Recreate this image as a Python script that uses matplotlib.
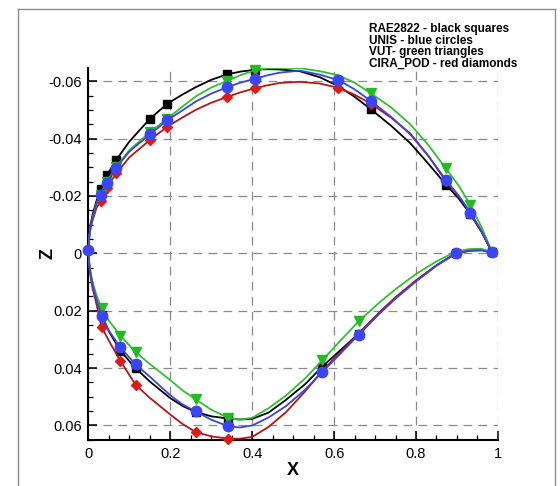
import numpy as np
import matplotlib
matplotlib.use('Agg')
import matplotlib.pyplot as plt
from matplotlib.ticker import MultipleLocator
from matplotlib.lines import Line2D

# --- 設定 ---
plt.rcParams['font.family'] = ['Liberation Sans', 'DejaVu Sans']
plt.rcParams['axes.unicode_minus'] = False

OUT_FILE = 'out.png'

# 上面・下面の x ステーション
X_UPPER = [0, 0.002, 0.005, 0.01, 0.02, 0.031, 0.045, 0.068, 0.10, 0.15, 0.193, 0.23, 0.263, 0.30,
           0.338, 0.373, 0.408, 0.438, 0.467, 0.516, 0.565, 0.61, 0.65, 0.69, 0.74, 0.786,
           0.83, 0.873, 0.905, 0.933, 0.96, 0.985]
X_LOWER = [0, 0.002, 0.005, 0.01, 0.02, 0.032, 0.05, 0.078, 0.115, 0.15, 0.2, 0.23, 0.262, 0.30,
           0.342, 0.37, 0.40, 0.44, 0.483, 0.53, 0.571, 0.615, 0.66, 0.711, 0.75, 0.80,
           0.85, 0.897, 0.93, 0.96, 0.985]

# 各手法の翼形状 Z
RAE_UPPER = [-0.001, -0.0065, -0.0100, -0.0135, -0.0185, -0.0226, -0.0273, -0.0326, -0.0390, -0.0469,
             -0.0522, -0.0554, -0.0580, -0.0605, -0.0624, -0.0634, -0.0640, -0.0642, -0.0641, -0.0635,
             -0.0614, -0.0583, -0.0546, -0.0502, -0.0444, -0.0384, -0.0313, -0.0240, -0.0190, -0.0136,
             -0.0075, -0.0006]
RAE_LOWER = [-0.001, 0.004, 0.0072, 0.0110, 0.0163, 0.0215, 0.0272, 0.0340, 0.0400, 0.0447,
             0.0505, 0.0532, 0.0553, 0.0568, 0.0576, 0.0579, 0.0577, 0.0555, 0.0510, 0.0455,
             0.0395, 0.0338, 0.0280, 0.0207, 0.0155, 0.0096, 0.0042, 0.0000, -0.0012, -0.0013, -0.0004]

UNIS_UPPER = [-0.001, -0.006, -0.0092, -0.0125, -0.0175, -0.0204, -0.0247, -0.0299, -0.0355, -0.0415,
              -0.0464, -0.0499, -0.0530, -0.0557, -0.0579, -0.0596, -0.0609, -0.0621, -0.0630, -0.0637,
              -0.0623, -0.0604, -0.0572, -0.0531, -0.0475, -0.0415, -0.0340, -0.0256, -0.0200, -0.0140,
              -0.0078, -0.0006]
UNIS_LOWER = [-0.001, 0.004, 0.0072, 0.0110, 0.0163, 0.0220, 0.0270, 0.0328, 0.0387, 0.0430,
              0.0495, 0.0527, 0.0551, 0.0580, 0.0603, 0.0607, 0.0600, 0.0572, 0.0532, 0.0474,
              0.0414, 0.0350, 0.0284, 0.0210, 0.0158, 0.0098, 0.0043, 0.0000, -0.0008, -0.0010, -0.0003]

VUT_UPPER = [-0.001, -0.006, -0.0092, -0.0125, -0.0175, -0.0205, -0.0250, -0.0302, -0.0360, -0.0422,
             -0.0470, -0.0512, -0.0548, -0.0578, -0.0601, -0.0622, -0.0639, -0.0645, -0.0647, -0.0646,
             -0.0635, -0.0621, -0.0595, -0.0558, -0.0508, -0.0450, -0.0378, -0.0296, -0.0235, -0.0168,
             -0.0092, -0.0008]
VUT_LOWER = [-0.001, 0.0035, 0.0065, 0.0100, 0.0148, 0.0189, 0.0235, 0.0287, 0.0344, 0.0386,
             0.0442, 0.0478, 0.0509, 0.0545, 0.0574, 0.0580, 0.0573, 0.0540, 0.0495, 0.0435,
             0.0373, 0.0305, 0.0237, 0.0171, 0.0125, 0.0072, 0.0028, -0.0006, -0.0015, -0.0016, -0.0004]

CIRA_UPPER = [-0.001, -0.0055, -0.0085, -0.0115, -0.0160, -0.0183, -0.0228, -0.0279, -0.0335, -0.0395,
              -0.0442, -0.0474, -0.0501, -0.0525, -0.0545, -0.0562, -0.0576, -0.0586, -0.0594, -0.0598,
              -0.0592, -0.0577, -0.0553, -0.0522, -0.0472, -0.0418, -0.0340, -0.0252, -0.0198, -0.0142,
              -0.0078, -0.0006]
CIRA_LOWER = [-0.001, 0.0045, 0.0080, 0.0122, 0.0180, 0.0256, 0.0305, 0.0375, 0.0458, 0.0504,
              0.0562, 0.0595, 0.0623, 0.0638, 0.0646, 0.0646, 0.0640, 0.0605, 0.0553, 0.0480,
              0.0410, 0.0345, 0.0280, 0.0205, 0.0153, 0.0094, 0.0042, 0.0002, -0.0010, -0.0012, -0.0004]

# マーカーを打つステーション
RAE_MARK_U = [0.031, 0.045, 0.068, 0.15, 0.193, 0.338, 0.408, 0.69, 0.873, 0.933, 0.985]
RAE_MARK_L = [0.032, 0.078, 0.115, 0.262, 0.342, 0.571, 0.66, 0.897]
UNIS_MARK_U = [0, 0.031, 0.045, 0.068, 0.15, 0.193, 0.338, 0.408, 0.61, 0.69, 0.873, 0.933, 0.985]
UNIS_MARK_L = [0.032, 0.078, 0.115, 0.262, 0.342, 0.571, 0.66, 0.897]
VUT_MARK_U = [0.031, 0.045, 0.068, 0.15, 0.193, 0.338, 0.408, 0.69, 0.873, 0.933]
VUT_MARK_L = [0.032, 0.078, 0.115, 0.262, 0.342, 0.571, 0.66]
CIRA_MARK_U = [0.031, 0.045, 0.068, 0.15, 0.193, 0.338, 0.408, 0.61, 0.69, 0.873, 0.933]
CIRA_MARK_L = [0.032, 0.078, 0.115, 0.262, 0.342]

LEGEND_LINES = ['RAE2822 - black squares', 'UNIS - blue circles',
                'VUT- green triangles', 'CIRA_POD - red diamonds']

X_TICKS = [0, 0.2, 0.4, 0.6, 0.8, 1]
Z_TICKS = [-0.06, -0.04, -0.02, 0, 0.02, 0.04, 0.06]

# (上面, 下面, マーカー上, マーカー下, 線色, マーカー色, マーカー, サイズ, zorder)
SERIES = [
    (RAE_UPPER, RAE_LOWER, RAE_MARK_U, RAE_MARK_L, 'black', 'black', 's', 5.5, 3),
    (CIRA_UPPER, CIRA_LOWER, CIRA_MARK_U, CIRA_MARK_L, '#b01818', '#dd1a1a', 'D', 5.5, 4),
    (VUT_UPPER, VUT_LOWER, VUT_MARK_U, VUT_MARK_L, '#2fbf2f', '#22bb22', 'v', 6.5, 5),
    (UNIS_UPPER, UNIS_LOWER, UNIS_MARK_U, UNIS_MARK_L, '#3a46d8', '#3b45f5', 'o', 7.5, 6),
]


def draw_surface(ax, xs, zs, marks, lc, mc, marker, ms, z):
    xs = np.asarray(xs)
    zs = np.asarray(zs)
    ax.plot(xs, zs, color=lc, lw=1.3, zorder=z, solid_joinstyle='round')
    sel = np.isin(xs, marks)
    ax.plot(xs[sel], zs[sel], ls='none', marker=marker, ms=ms, color=mc,
            markeredgecolor=mc, zorder=z + 0.5, clip_on=False)


def main():
    fig = plt.figure(figsize=(5.6, 4.86), dpi=100)
    ax = fig.add_axes([0.158, 0.095, 0.731, 0.765])

    for upper, lower, mu, ml, lc, mc, mk, ms, z in SERIES:
        draw_surface(ax, X_UPPER, upper, mu, lc, mc, mk, ms, z)
        draw_surface(ax, X_LOWER, lower, ml, lc, mc, mk, ms, z)

    ax.set_xlim(0, 1)
    ax.set_ylim(0.0650, -0.0646)

    ax.set_xticks(X_TICKS)
    ax.set_xticklabels([f'{v:g}' for v in X_TICKS])
    ax.set_yticks(Z_TICKS)
    ax.set_yticklabels([f'{v:g}' for v in Z_TICKS])
    ax.xaxis.set_minor_locator(MultipleLocator(0.05))
    ax.yaxis.set_minor_locator(MultipleLocator(0.005))
    ax.tick_params(which='both', direction='in', top=False, right=False, labelsize=10.5)
    ax.tick_params(which='major', length=6.5, width=1.1, pad=5)
    ax.tick_params(which='minor', length=3.5, width=0.9)

    ax.grid(True, which='major', color='#8a8a8a', lw=0.9, ls=(0, (7, 5)), zorder=1)

    for side in ['top', 'right']:
        ax.spines[side].set_visible(False)
    for side in ['left', 'bottom']:
        ax.spines[side].set_linewidth(1.5)

    ax.set_xlabel('X', fontsize=13, fontweight='bold', labelpad=1)
    ax.set_ylabel('Z', fontsize=13, fontweight='bold')
    ax.yaxis.set_label_coords(-0.078, 0.5)

    # 凡例テキスト
    for i, line in enumerate(LEGEND_LINES):
        fig.text(369 / 560, 1 - (29 + i * 11.7) / 486, line, fontsize=8.5,
                 fontweight='bold', va='center', ha='left',
                 family=['Liberation Sans Narrow', 'Liberation Sans', 'DejaVu Sans'])

    # 外枠
    frame = dict(color='#8c8c8c', lw=1.0, transform=fig.transFigure)
    x0, x1, y1 = 18 / 560, 555 / 560, 1 - 9.5 / 486
    fig.add_artist(Line2D([x0, x0], [0, y1], **frame))
    fig.add_artist(Line2D([x0, x1], [y1, y1], **frame))
    fig.add_artist(Line2D([x1, x1], [y1, 0], **frame))

    fig.savefig(OUT_FILE, dpi=100)
    plt.close(fig)


if __name__ == '__main__':
    main()
